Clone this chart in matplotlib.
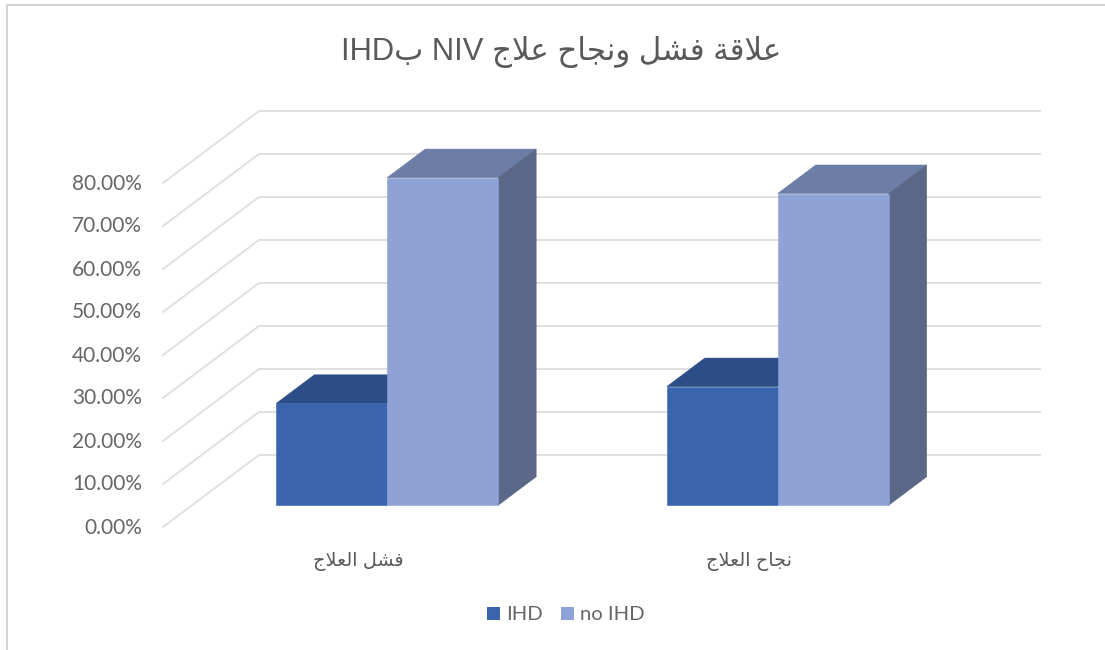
import re
import unicodedata
import matplotlib
matplotlib.use("Agg")
import matplotlib.pyplot as plt
from matplotlib.lines import Line2D
from matplotlib.patches import Patch
from matplotlib.transforms import ScaledTranslation

# data
title = "علاقة فشل ونجاح علاج NIV بIHD"
categories = ["فشل العلاج", "نجاح العلاج"]
series_names = ["IHD", "no IHD"]
ihd = [23.7, 27.6]
no_ihd = [76.2, 72.5]
y_ticks = [0, 10, 20, 30, 40, 50, 60, 70, 80]

# colours
grid_col = "#E0E0E0"
text_col = "#666666"
ihd_cols = ("#3A64AD", "#2C4D85")
no_ihd_cols = ("#8FA2D5", "#6C7DA6", "#5A6787")

# matplotlib does not shape arabic: pick presentation forms, then put in visual order
FORMS = {}
for cp in range(0xFE70, 0xFEFD):
    parts = unicodedata.decomposition(chr(cp)).split()
    if len(parts) == 2 and parts[0].startswith("<"):
        FORMS.setdefault(chr(int(parts[1], 16)), {})[parts[0]] = chr(cp)


def shape_run(s):
    out = []
    i = 0
    joined = False
    while i < len(s):
        c = s[i]
        nxt = s[i + 1] if i + 1 < len(s) else ""
        if c == "ل" and nxt == "ا":
            out.append("\uFEFC" if joined else "\uFEFB")
            joined = False
            i += 2
            continue
        f = FORMS.get(c, {})
        to_next = "<initial>" in f and nxt in FORMS
        if joined and to_next:
            out.append(f["<medial>"])
        elif joined:
            out.append(f.get("<final>", c))
        elif to_next:
            out.append(f["<initial>"])
        else:
            out.append(f.get("<isolated>", c))
        joined = to_next
        i += 1
    return "".join(out[::-1])


def visual(text):
    words = []
    for w in text.split(" ")[::-1]:
        runs = re.findall(r"[A-Za-z]+|[^A-Za-z]+", w)[::-1]
        words.append("".join(r if r[0].isascii() else shape_run(r) for r in runs))
    return " ".join(words)


fig = plt.figure(figsize=(11.05, 6.5), dpi=100)
ax = fig.add_axes([163 / 1105, 1 - 527 / 650, 781 / 1105, 344 / 650])
ax.set_xlim(0, 2)
ax.set_ylim(0, 80)
for s in ax.spines.values():
    s.set_visible(False)

# oblique depth of the floor, in data units
depth_x = 96 / 390.5
depth_y = 72 / 4.3


def proj(x, y, d):
    return x + d * depth_x, y + d * depth_y


def face(pts, col, z=3):
    xs, ys = zip(*[proj(*p) for p in pts])
    ax.fill(xs, ys, facecolor=col, edgecolor=col, linewidth=0.4, zorder=z, clip_on=False)


# gridlines: diagonal on the side wall, then along the back wall
for t in y_ticks:
    xs, ys = zip(proj(0, t, 0), proj(0, t, 1), proj(2, t, 1))
    ax.plot(xs, ys, color=grid_col, lw=1.4, zorder=1, clip_on=False, solid_joinstyle="miter")

bar_w = 0.284
d0, d1 = 0.302, 0.698

for i in range(len(categories)):
    c = i + 0.5
    a, b, e = c - bar_w, c, c + bar_w
    h1 = ihd[i]
    face([(a, h1, d0), (a, h1, d1), (b, h1, d1), (b, h1, d0)], ihd_cols[1], z=3)
    face([(a, 0, d0), (b, 0, d0), (b, h1, d0), (a, h1, d0)], ihd_cols[0], z=4)
    h2 = no_ihd[i]
    face([(b, h2, d0), (b, h2, d1), (e, h2, d1), (e, h2, d0)], no_ihd_cols[1], z=5)
    face([(e, 0, d0), (e, 0, d1), (e, h2, d1), (e, h2, d0)], no_ihd_cols[2], z=5)
    face([(b, 0, d0), (e, 0, d0), (e, h2, d0), (b, h2, d0)], no_ihd_cols[0], z=6)

ax.set_yticks(y_ticks)
ax.set_yticklabels(["%.2f%%" % t for t in y_ticks], fontfamily="Lato", fontsize=15, color=text_col)
ax.set_xticks([0.5, 1.5])
ax.set_xticklabels([visual(c) for c in categories], fontfamily=["Liberation Sans", "DejaVu Sans"],
                   fontsize=13.8, color="#595959")
ax.tick_params(axis="y", length=0, pad=15)
ax.tick_params(axis="x", length=0, pad=18)

# labels sit a little above their gridline ends
up = ScaledTranslation(0, 1.5 / 100, fig.dpi_scale_trans)
for lab in ax.get_yticklabels():
    lab.set_transform(lab.get_transform() + up)

fig.text(561.5 / 1105, 1 - 52 / 650, visual(title), ha="center", va="center",
         fontfamily=["Liberation Sans", "DejaVu Sans"], fontsize=22.2, color="#595959")

handles = [Patch(facecolor=ihd_cols[0]), Patch(facecolor=no_ihd_cols[0])]
ax.legend(handles, series_names, loc="center", bbox_to_anchor=(566 / 1105, 1 - 615 / 650),
          bbox_transform=fig.transFigure, ncol=2, frameon=False, handlelength=0.64, handleheight=0.64,
          handletextpad=0.3, columnspacing=0.9, prop={"family": "Lato", "size": 14.6}, labelcolor=text_col)

# frame of the chart area
fig.add_artist(Line2D([7 / 1105, 7 / 1105, 1], [0, 1 - 5 / 650, 1 - 5 / 650], color="#D4D4D4", lw=1.5))

fig.savefig("out.png", dpi=100)
